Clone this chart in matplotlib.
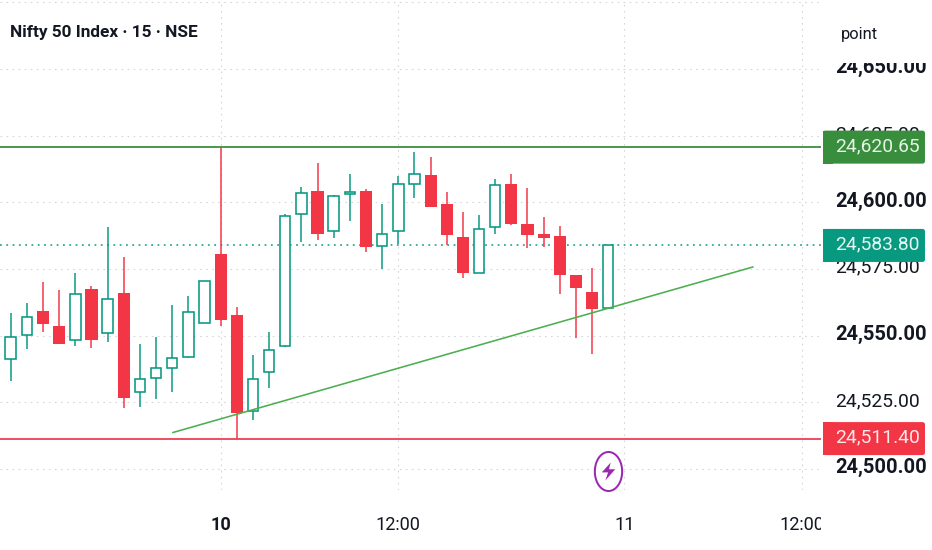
import matplotlib
matplotlib.use("Agg")
import matplotlib.pyplot as plt
from matplotlib.patches import FancyBboxPatch, Rectangle
from matplotlib.path import Path
import numpy as np

# ---- data ----
opens = [24541.23, 24550.22, 24559.35, 24553.60, 24548.35, 24567.59, 24550.85, 24565.84,
         24528.86, 24534.23, 24537.86, 24542.10, 24554.60, 24580.46, 24557.85, 24521.74,
         24536.36, 24545.98, 24595.45, 24604.07, 24589.08, 24603.20, 24604.32, 24583.58,
         24589.08, 24606.82, 24610.32, 24599.33, 24587.08, 24573.34, 24590.83, 24606.70,
         24591.83, 24587.96, 24587.33, 24572.59, 24566.47, 24560.22]
closes = [24549.35, 24556.85, 24554.47, 24546.98, 24565.72, 24548.48, 24563.72, 24526.74,
          24533.86, 24537.98, 24541.60, 24558.85, 24570.46, 24555.72, 24520.99, 24533.86,
          24544.48, 24594.70, 24603.45, 24588.21, 24602.32, 24603.82, 24583.33, 24588.08,
          24606.82, 24610.69, 24598.33, 24587.83, 24573.59, 24589.83, 24606.32, 24591.83,
          24587.58, 24586.71, 24572.59, 24567.84, 24559.97, 24583.80]
highs = [24558.35, 24562.34, 24569.97, 24567.09, 24573.59, 24568.47, 24590.58, 24579.59,
         24546.98, 24549.60, 24561.34, 24564.97, 24570.46, 24620.65, 24560.84, 24542.60,
         24551.22, 24595.45, 24605.57, 24614.69, 24602.82, 24610.57, 24604.82, 24599.33,
         24609.82, 24618.94, 24617.07, 24603.95, 24596.20, 24595.33, 24608.57, 24610.44,
         24605.45, 24594.45, 24590.95, 24572.59, 24575.21, 24583.80]
lows = [24532.98, 24544.98, 24551.47, 24546.98, 24546.23, 24545.48, 24547.73, 24522.86,
        24523.36, 24526.36, 24528.74, 24541.73, 24554.60, 24553.60, 24511.40, 24518.49,
        24530.48, 24545.73, 24584.96, 24585.96, 24586.46, 24592.95, 24581.33, 24574.96,
        24584.46, 24601.45, 24598.33, 24583.96, 24571.71, 24573.34, 24587.96, 24591.45,
        24582.83, 24583.33, 24565.72, 24549.10, 24543.10, 24560.22]
resistance = 24620.65
last_price = 24583.80
support = 24511.40
trend_x = [10, 46]
trend_y = [24513.6, 24575.8]
y_ticks = [24650, 24625, 24600, 24575, 24550, 24525, 24500]
y_bold = [True, False, True, False, True, False, True]
grid_extra = [24675]
x_ticks = [13, 24, 38, 49]
x_labels = ["10", "12:00", "11", "12:00"]
x_bold = [True, False, False, False]
title = "Nifty 50 Index · 15 · NSE"
unit = "point"
event_x = 37
event_y = 24499.3

# ---- style ----
UP, DOWN = "#089981", "#f23645"
TEXT = "#131722"
GRID = "#d4d6da"
FONT = "Roboto"
W, H = 932, 550
PANE_W, PANE_H = 821, 490
PX = 0.72  # points per pixel at dpi 100
LABEL_LIFT = 0.45  # labels sit a little above their gridline
plt.rcParams["font.family"] = FONT

fig = plt.figure(figsize=(W / 100, H / 100), dpi=100, facecolor="white")
ax = fig.add_axes([0, 1 - PANE_H / H, PANE_W / W, PANE_H / H])
rax = fig.add_axes([PANE_W / W, 1 - PANE_H / H, (W - PANE_W) / W, PANE_H / H])
bax = fig.add_axes([0, 0, PANE_W / W, 1 - PANE_H / H])

ylim = (24492.13, 24675.79)
xlim = (-0.6625, 50.175)
ax.set_xlim(xlim); ax.set_ylim(ylim)
rax.set_xlim(PANE_W, W); rax.set_ylim(ylim)
bax.set_xlim(xlim); bax.set_ylim(0, 1)
for a in (ax, rax, bax):
    a.axis("off")

# grid
for v in y_ticks + grid_extra:
    ax.axhline(v, color=GRID, lw=1.1 * PX, ls=(0, (1.5, 4)), zorder=1)
for v in x_ticks:
    ax.axvline(v, color=GRID, lw=1.1 * PX, ls=(0, (1.5, 4)), zorder=1)

# lines
ax.axhline(resistance, color="#388e3c", lw=1.8 * PX, zorder=2)
ax.axhline(support, color="#ee5068", lw=2.0 * PX, zorder=2)
ax.axhline(last_price, color=UP, lw=1.5 * PX, ls=(0, (1.2, 3.0)), zorder=2)

# candles
x = np.arange(len(opens))
o, c, h, l = map(np.array, (opens, closes, highs, lows))
up = c >= o
ax.vlines(x[up], l[up], h[up], color=UP, lw=1.5 * PX, zorder=3)
ax.vlines(x[~up], l[~up], h[~up], color=DOWN, lw=1.5 * PX, zorder=3)
ax.bar(x[up], (c - o)[up], bottom=o[up], width=0.65, facecolor="white",
       edgecolor=UP, linewidth=1.6 * PX, zorder=4)
ax.bar(x[~up], (c - o)[~up], bottom=o[~up], width=0.75, facecolor=DOWN,
       edgecolor="none", zorder=4)

# trend line
ax.plot(trend_x, trend_y, color="#4caf50", lw=1.6 * PX, zorder=5, solid_capstyle="butt")

# event marker (ellipse + bolt), drawn as pixel-sized markers
theta = np.linspace(0, 2 * np.pi, 80)
ring = Path(np.column_stack([0.70 * np.cos(theta), np.sin(theta)]))
bolt = Path([(0.25, 1.0), (-0.75, -0.1), (-0.05, -0.1), (-0.35, -1.0),
             (0.75, 0.25), (0.05, 0.25), (0.25, 1.0)], closed=True)
ax.plot([event_x], [event_y], marker=ring, ms=39 * PX, mfc="white", mec="#9c27b0",
        mew=2.0 * PX, zorder=6, ls="none", clip_on=False)
ax.plot([event_x], [event_y], marker=bolt, ms=18 * PX, mfc="#9c27b0", mec="none",
        zorder=7, ls="none")

# price scale labels
for v, b in zip(y_ticks, y_bold):
    rax.text(835, v + LABEL_LIFT, f"{v:,.2f}", ha="left", va="center",
             fontsize=(20.2 if b else 19.3) * PX,
             fontweight="bold" if b else "normal", color=TEXT, zorder=2)

# header cover + unit
rax.add_patch(Rectangle((821, 24652.2), 111, 30, facecolor="white", edgecolor="none", zorder=3))
rax.text(859.5, 24662.9, unit, ha="center", va="center", fontsize=16.5 * PX, color=TEXT, zorder=4)

# price tags
TAG_H = 33 / 2.668
for v, col, txtc in [(resistance, "#388e3c", "#e6f4e6"), (last_price, UP, "#e6f7f3"), (support, DOWN, "#fde8ea")]:
    rax.add_patch(FancyBboxPatch((823, v - TAG_H / 2), 102, TAG_H,
                                 boxstyle="round,pad=0,rounding_size=2.5", mutation_aspect=1 / 2.668,
                                 facecolor=col, edgecolor="none", zorder=5))
    rax.add_patch(Rectangle((823, v - TAG_H / 2), 10, TAG_H, facecolor=col, edgecolor="none", zorder=5))
    rax.text(835, v + LABEL_LIFT, f"{v:,.2f}", ha="left", va="center", fontsize=19.3 * PX, color=txtc, zorder=6)

# time axis labels
for v, s, b in zip(x_ticks, x_labels, x_bold):
    bax.text(v, 0.415, s, ha="center", va="center", fontsize=18.2 * PX,
             fontweight="bold" if b else "normal", color=TEXT, clip_on=True)

# title
fig.text(10 / W, 1 - 32 / H, title, ha="left", va="center", fontsize=17.2 * PX,
         fontweight="bold", color=TEXT)

fig.savefig("out.png", dpi=100, facecolor="white")
